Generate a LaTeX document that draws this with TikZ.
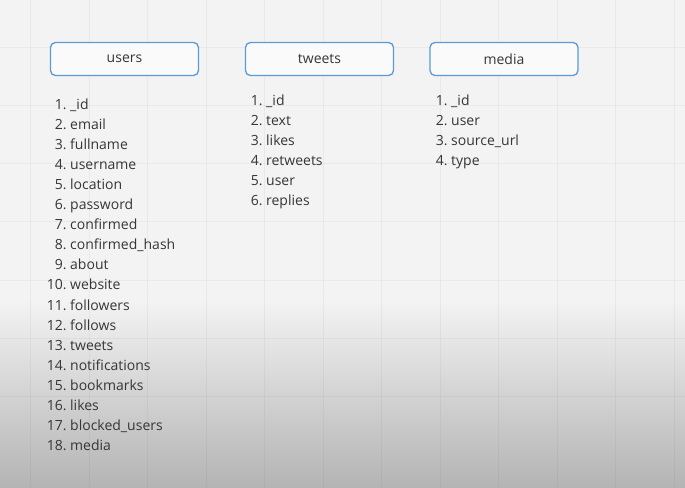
\documentclass[tikz,border=0pt]{standalone}
\usepackage{fontspec}
\setmainfont{Open Sans}
\definecolor{bgtop}{HTML}{F3F3F3}
\definecolor{bgbot}{HTML}{B4B4B4}
\definecolor{boxblue}{HTML}{5B9BD5}
\definecolor{txt}{HTML}{363636}
\tikzset{
  gridline/.style={draw=black, draw opacity=0.04, line width=1pt},
  hdr/.style={draw=boxblue, line width=1.3pt, rounded corners=5pt, fill=white!55!bgtop,
    minimum width=148pt, minimum height=33pt, inner sep=0pt, text=txt, font=\fontsize{14}{16}\selectfont},
  item/.style={anchor=base west, inner sep=0pt, text=txt, font=\fontsize{14}{16}\selectfont},
}
\newcommand{\numlab}[1]{\makebox[20pt][r]{#1.}\hspace{3.5pt}}
\begin{document}
\begin{tikzpicture}[x=1pt,y=-1pt]
\useasboundingbox (0,0) rectangle (685,487);
\fill[bgtop] (0,0) rectangle (685,487);
\shade[top color=bgtop, bottom color=bgbot] (0,300) rectangle (685,487);
\foreach \k in {0,...,11} {
  \draw[gridline] (30.5+58.5*\k,0) -- (30.5+58.5*\k,487);
}
\foreach \k in {0,...,7} {
  \draw[gridline] (0,-11+58.2*\k) -- (685,-11+58.2*\k);
}
\node[hdr] (users) at (124.5,59) {\raisebox{-1.5pt}{users}};
\node[hdr] (tweets) at (319.5,59) {\raisebox{-1.5pt}{tweets}};
\node[hdr] (media) at (504,59) {\raisebox{-1.5pt}{media}};
\foreach \n [count=\i] in {\_id,email,fullname,username,location,password,confirmed,confirmed\_hash,about,website,followers,follows,tweets,notifications,bookmarks,likes,blocked\_users,media} {
  \node[item] (u\i) at (46.5,109+20.1*\i-20.1) {\numlab{\i}\n};
}
\foreach \n [count=\i] in {\_id,text,likes,retweets,user,replies} {
  \node[item] (t\i) at (242.5,105+20.1*\i-20.1) {\numlab{\i}\n};
}
\foreach \n [count=\i] in {\_id,user,source\_url,type} {
  \node[item] (m\i) at (427.5,105+20.1*\i-20.1) {\numlab{\i}\n};
}
\end{tikzpicture}
\end{document}
